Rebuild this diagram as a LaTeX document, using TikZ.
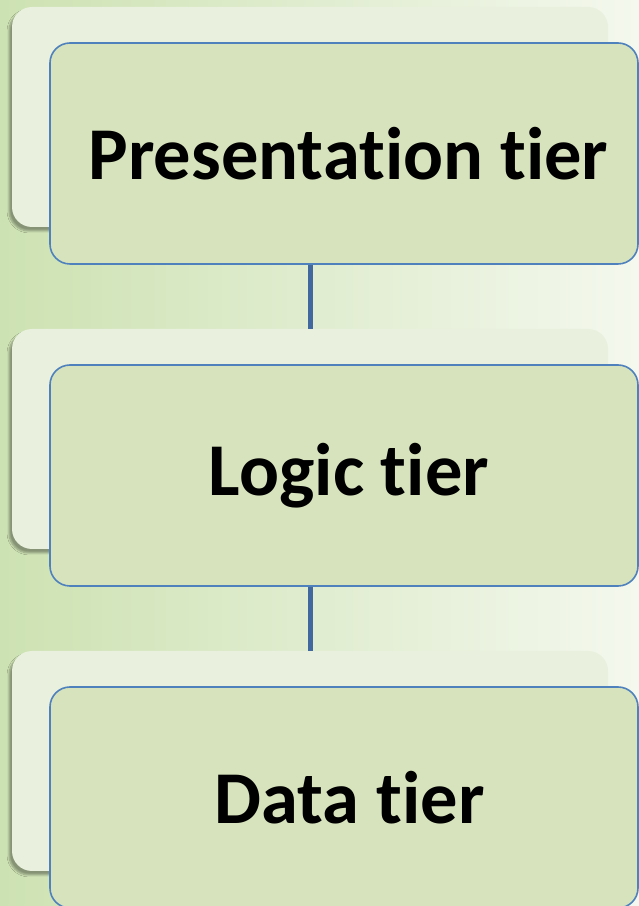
\documentclass[tikz,border=0pt]{standalone}
\usepackage{fontspec}
\setmainfont[Ligatures={NoCommon}]{Carlito}
\usetikzlibrary{shadows,shadows.blur}
\definecolor{bgleft}{HTML}{CDE2B2}
\definecolor{bgright}{HTML}{F4F8EE}
\definecolor{backfill}{HTML}{E9F0DD}
\definecolor{frontfill}{HTML}{D7E3BD}
\definecolor{edgeblue}{HTML}{4F81BD}
\definecolor{linkblue}{HTML}{41689F}
\tikzset{
  backbox/.style={rectangle, rounded corners=20pt, fill=backfill,
    minimum width=596pt, minimum height=220pt, inner sep=0pt,
    blur shadow={shadow xshift=-3pt, shadow yshift=-4pt, shadow blur steps=6, shadow opacity=35}},
  frontbox/.style={rectangle, rounded corners=20pt, fill=frontfill, draw=edgeblue,
    line width=1.6pt, minimum width=588pt, minimum height=221pt, inner sep=0pt,
    font=\bfseries\fontsize{74.5}{80}\selectfont},
  link/.style={draw=linkblue, line width=5pt}
}
\begin{document}
\begin{tikzpicture}[x=1pt,y=1pt]
\useasboundingbox (0,0) rectangle (639,906);
\begin{scope}
\clip (0,0) rectangle (639,906);
\shade[left color=bgleft, right color=bgright] (0,0) rectangle (639,906);
\node[backbox] (b1) at (310,789) {};
\node[backbox] (b2) at (310,467) {};
\node[backbox] (b3) at (310,145) {};
\node[frontbox] (f1) at (344,752.5) {\hspace*{9pt}Presentation tier};
\node[frontbox] (f2) at (344,430.5) {\hspace*{10pt}Logic tier};
\node[frontbox] (f3) at (344,108.5) {\hspace*{11pt}Data tier};
\draw[link] (b2.north |- f1.south) -- (b2.north);
\draw[link] (b3.north |- f2.south) -- (b3.north);
\end{scope}
\end{tikzpicture}
\end{document}
